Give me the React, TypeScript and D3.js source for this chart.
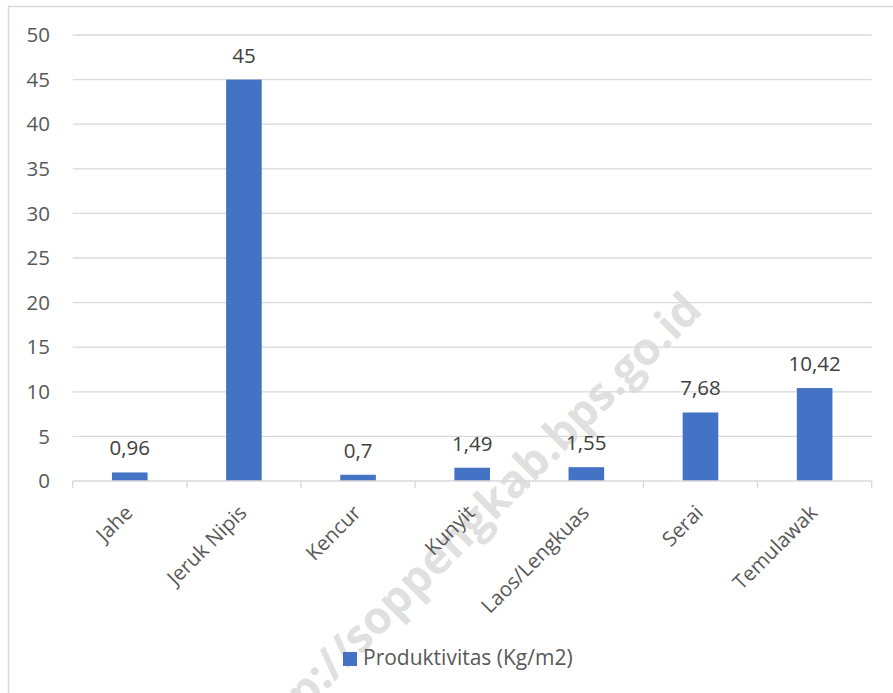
import React from "react";
import * as d3 from "d3";

const categories = ["Jahe", "Jeruk Nipis", "Kencur", "Kunyit", "Laos/Lengkuas", "Serai", "Temulawak"];
const values = [0.96, 45, 0.7, 1.49, 1.55, 7.68, 10.42];
const valueLabels = ["0,96", "45", "0,7", "1,49", "1,55", "7,68", "10,42"];
const yTicks = [0, 5, 10, 15, 20, 25, 30, 35, 40, 45, 50];
const seriesName = "Produktivitas (Kg/m2)";
const watermark = "http://soppengkab.bps.go.id";

const W = 893;
const H = 693;
const FONT = "'Open Sans', 'Noto Sans', sans-serif";

export default function App() {
  const x = d3.scaleBand<string>().domain(categories).range([72.7, 871.7]).padding(0);
  const y = d3.scaleLinear().domain([0, 50]).range([481, 35]);
  const bw = x.bandwidth() * 0.312;
  const boundaries = d3.range(categories.length + 1).map((i) => 72.7 + i * x.step());

  return (
    <svg
      width={W}
      height={H}
      style={{ position: "absolute", left: 0, top: 0, background: "#fff" }}
      fontFamily={FONT}
    >
      <rect x={0} y={0} width={W} height={H} fill="#fff" />
      <rect x={8.5} y={6.5} width={W + 20} height={H + 20} fill="none" stroke="#d9d9d9" strokeWidth={1.5} />
      <text
        transform="translate(704,312) rotate(-45)"
        textAnchor="end"
        fontSize={45}
        fontWeight={700}
        fill="#e0e0e0"
      >
        {watermark}
      </text>
      {yTicks.map((t) => (
        <g key={t}>
          {t > 0 && (
            <line x1={72.7} x2={871.7} y1={y(t)} y2={y(t)} stroke="#d9d9d9" strokeWidth={1.3} />
          )}
          <text x={50} y={y(t)} dy="0.35em" textAnchor="end" fontSize={20.5} fill="#595959">
            {t}
          </text>
        </g>
      ))}
      {categories.map((c, i) => (
        <rect
          key={c}
          x={(x(c) as number) + (x.bandwidth() - bw) / 2}
          y={y(values[i])}
          width={bw}
          height={y(0) - y(values[i])}
          fill="#4472C4"
        />
      ))}
      <line x1={72.7} x2={871.7} y1={y(0)} y2={y(0)} stroke="#d9d9d9" strokeWidth={1.3} />
      {boundaries.map((b, i) => (
        <line key={i} x1={b} x2={b} y1={y(0)} y2={y(0) + 7} stroke="#d9d9d9" strokeWidth={1.3} />
      ))}
      {categories.map((c, i) => (
        <text
          key={c}
          x={(x(c) as number) + x.bandwidth() / 2}
          y={y(values[i]) - 17}
          textAnchor="middle"
          fontSize={20.5}
          fill="#404040"
        >
          {valueLabels[i]}
        </text>
      ))}
      {categories.map((c) => (
        <text
          key={c}
          transform={`translate(${(x(c) as number) + x.bandwidth() / 2 + 4},514) rotate(-45)`}
          textAnchor="end"
          fontSize={20.5}
          fill="#595959"
        >
          {c}
        </text>
      ))}
      <rect x={343} y={652} width={14} height={14} fill="#4472C4" />
      <text x={363} y={665} fontSize={21} fill="#595959">
        {seriesName}
      </text>
    </svg>
  );
}
